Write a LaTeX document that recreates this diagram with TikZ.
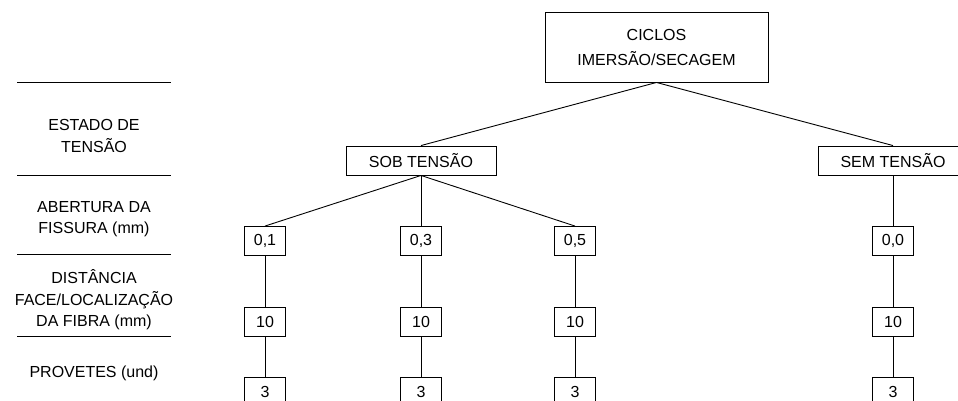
\documentclass[tikz,border=0pt]{standalone}
\usepackage{fontspec}
\setmainfont{Liberation Sans}
\usetikzlibrary{positioning}

\begin{document}
\begin{tikzpicture}[x=1pt,y=-1pt,line width=0.9pt,
    every node/.style={font=\fontsize{16}{21.5}\selectfont},
    box/.style={draw,inner sep=0pt,minimum height=29pt},
    valbox/.style={box,minimum width=41pt},
    rowlabel/.style={align=center}]
    \useasboundingbox (0,0) rectangle (958,400);
    \clip (0,0) rectangle (958,400);

    % row labels on the left
    \draw (17,82) -- (171,82);
    \draw (17,175) -- (171,175);
    \draw (17,254) -- (171,254);
    \draw (17,336) -- (171,336);
    \node[rowlabel] (estado) at (94,136) {ESTADO DE\\TENSÃO};
    \node[rowlabel] (abertura) at (94,219) {ABERTURA DA\\FISSURA (mm)};
    \node[rowlabel] (distancia) at (94,300) {DISTÂNCIA\\FACE/LOCALIZAÇÃO\\DA FIBRA (mm)};
    \node[rowlabel] (provetes) at (94,373) {PROVETES (und)};

    % tree
    \node[box,align=center,minimum width=223pt,minimum height=70pt,font=\fontsize{16}{25}\selectfont] (ciclos) at (656.5,47)
      {CICLOS\\IMERSÃO/SECAGEM};
    \node[box,minimum width=150pt] (sob) at (421,160.5) {SOB TENSÃO};
    \node[box,minimum width=150pt] (sem) at (893,160.5) {SEM TENSÃO};

    \node[valbox] (ab1) at (265,241) {0,1};
    \node[valbox] (ab3) at (421,241) {0,3};
    \node[valbox] (ab5) at (575,241) {0,5};
    \node[valbox] (ab0) at (893,241) {0,0};

    \node[valbox,below=51pt of ab1] (df1) {10};
    \node[valbox,below=51pt of ab3] (df3) {10};
    \node[valbox,below=51pt of ab5] (df5) {10};
    \node[valbox,below=51pt of ab0] (df0) {10};

    \node[valbox,below=40pt of df1] (pv1) {3};
    \node[valbox,below=40pt of df3] (pv3) {3};
    \node[valbox,below=40pt of df5] (pv5) {3};
    \node[valbox,below=40pt of df0] (pv0) {3};

    \draw (ciclos.south) -- (sob.north);
    \draw (ciclos.south) -- (sem.north);
    \draw (sob.south) -- (ab1.north);
    \draw (sob.south) -- (ab3.north);
    \draw (sob.south) -- (ab5.north);
    \draw (sem.south) -- (ab0.north);

    \draw (ab1) -- (df1);
    \draw (ab3) -- (df3);
    \draw (ab5) -- (df5);
    \draw (ab0) -- (df0);
    \draw (df1) -- (pv1);
    \draw (df3) -- (pv3);
    \draw (df5) -- (pv5);
    \draw (df0) -- (pv0);
  \end{tikzpicture}
\end{document}
